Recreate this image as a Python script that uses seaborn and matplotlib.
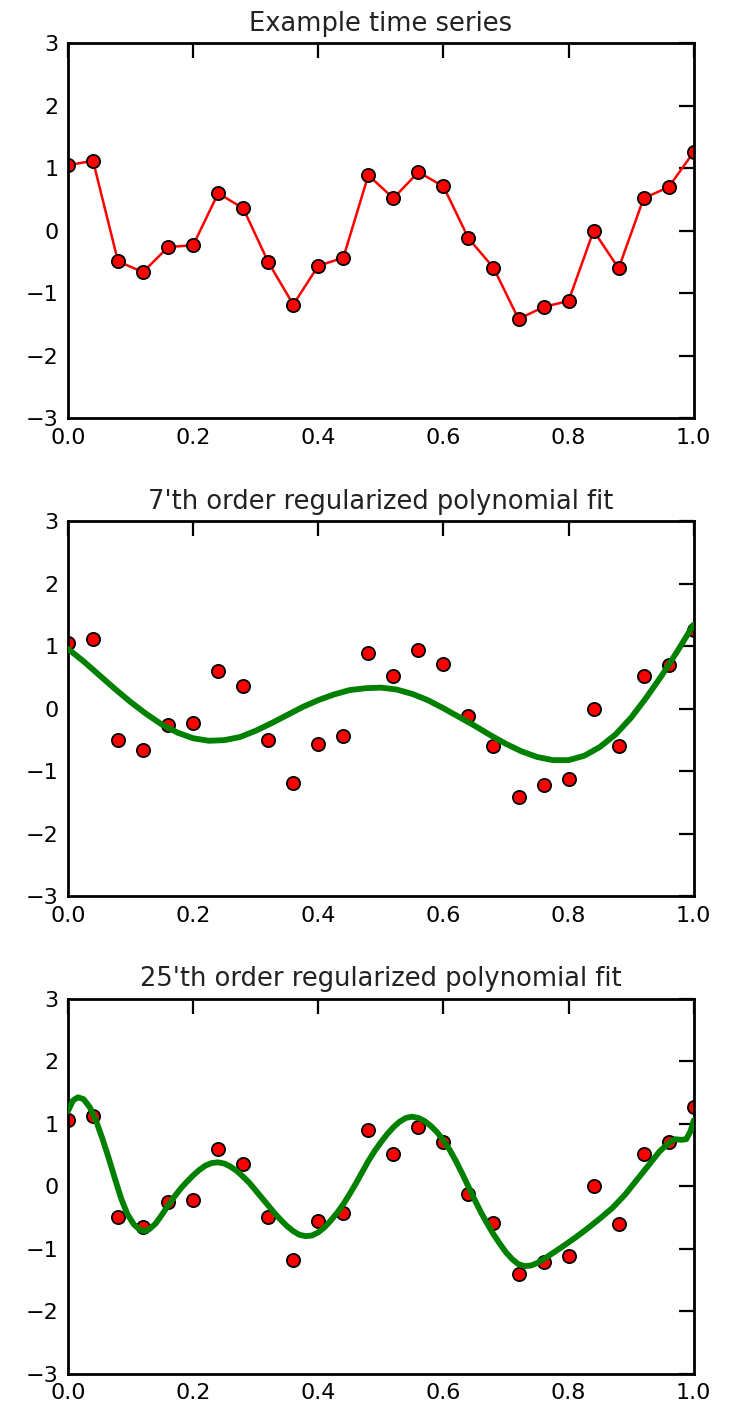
import matplotlib
matplotlib.use("Agg")
import matplotlib.pyplot as plt
import seaborn as sns

# Observed time series (26 evenly spaced samples on [0, 1])
t = [0.00, 0.04, 0.08, 0.12, 0.16, 0.20, 0.24, 0.28, 0.32, 0.36, 0.40, 0.44, 0.48,
     0.52, 0.56, 0.60, 0.64, 0.68, 0.72, 0.76, 0.80, 0.84, 0.88, 0.92, 0.96, 1.00]
y = [1.05, 1.12, -0.49, -0.66, -0.26, -0.23, 0.60, 0.36, -0.50, -1.18, -0.56, -0.43, 0.89,
     0.52, 0.94, 0.71, -0.12, -0.59, -1.41, -1.22, -1.12, 0.00, -0.60, 0.52, 0.70, 1.26]

# 7th order regularized polynomial fit, sampled on a fine grid
fit7_x = [0.000, 0.025, 0.050, 0.075, 0.100, 0.125, 0.150, 0.175, 0.200, 0.225,
          0.250, 0.275, 0.300, 0.325, 0.350, 0.375, 0.400, 0.425, 0.450, 0.475,
          0.500, 0.525, 0.550, 0.575, 0.600, 0.625, 0.650, 0.675, 0.700, 0.725,
          0.750, 0.775, 0.800, 0.825, 0.850, 0.875, 0.900, 0.925, 0.950, 0.975, 1.000]
fit7_y = [0.96, 0.76, 0.54, 0.32, 0.11, -0.08, -0.25, -0.38, -0.47, -0.51,
          -0.50, -0.45, -0.35, -0.23, -0.10, 0.03, 0.14, 0.23, 0.30, 0.33,
          0.34, 0.31, 0.24, 0.14, 0.01, -0.13, -0.27, -0.42, -0.56, -0.68,
          -0.77, -0.82, -0.82, -0.75, -0.61, -0.41, -0.14, 0.19, 0.55, 0.94, 1.35]

# 25th order regularized polynomial fit, sampled on a fine grid
fit25_x = [0.000, 0.008, 0.016, 0.025, 0.035, 0.045, 0.055, 0.065, 0.075, 0.085,
           0.095, 0.105, 0.115, 0.122, 0.130, 0.140, 0.150, 0.160, 0.170, 0.180,
           0.190, 0.200, 0.210, 0.220, 0.230, 0.240, 0.250, 0.260, 0.270, 0.280,
           0.290, 0.300, 0.310, 0.320, 0.330, 0.340, 0.350, 0.360, 0.370, 0.380,
           0.390, 0.400, 0.410, 0.420, 0.430, 0.440, 0.450, 0.460, 0.470, 0.480,
           0.490, 0.500, 0.510, 0.520, 0.530, 0.540, 0.550, 0.560, 0.570, 0.580,
           0.590, 0.600, 0.610, 0.620, 0.630, 0.640, 0.650, 0.660, 0.670, 0.680,
           0.690, 0.700, 0.710, 0.720, 0.730, 0.740, 0.750, 0.760, 0.775, 0.790,
           0.810, 0.830, 0.850, 0.870, 0.890, 0.910, 0.930, 0.945, 0.960, 0.970,
           0.980, 0.988, 0.995, 1.000]
fit25_y = [1.20, 1.37, 1.42, 1.39, 1.26, 1.04, 0.76, 0.45, 0.12, -0.20,
           -0.45, -0.61, -0.70, -0.72, -0.69, -0.60, -0.46, -0.31, -0.17, -0.04,
           0.07, 0.17, 0.26, 0.33, 0.37, 0.38, 0.36, 0.31, 0.24, 0.15,
           0.05, -0.07, -0.19, -0.31, -0.43, -0.54, -0.64, -0.72, -0.78, -0.80,
           -0.79, -0.74, -0.66, -0.55, -0.43, -0.29, -0.13, 0.04, 0.22, 0.40,
           0.56, 0.70, 0.83, 0.94, 1.03, 1.09, 1.11, 1.09, 1.04, 0.96,
           0.86, 0.73, 0.58, 0.40, 0.20, -0.01, -0.22, -0.42, -0.60, -0.77,
           -0.92, -1.06, -1.17, -1.25, -1.28, -1.27, -1.23, -1.17, -1.07, -0.97,
           -0.83, -0.68, -0.52, -0.35, -0.14, 0.11, 0.36, 0.55, 0.69, 0.75,
           0.74, 0.75, 0.88, 1.05]

titles = ["Example time series",
          "7'th order regularized polynomial fit",
          "25'th order regularized polynomial fit"]
x_ticks = [0.0, 0.2, 0.4, 0.6, 0.8, 1.0]
x_tick_labels = ["0.0", "0.2", "0.4", "0.6", "0.8", "1.0"]
y_ticks = [-3, -2, -1, 0, 1, 2, 3]
y_tick_labels = ["\u22123", "\u22122", "\u22121", "0", "1", "2", "3"]

sns.set_style("white")
plt.rcParams.update({
    "font.family": ["DejaVu Sans"],
    "xtick.direction": "in",
    "ytick.direction": "in",
    "xtick.top": True,
    "ytick.right": True,
})

fig = plt.figure(figsize=(7.31, 14.04), dpi=100)
left, width, height = 0.093, 0.856, 0.2672
bottoms = [0.7020, 0.3615, 0.0216]
axes = [fig.add_axes([left, b, width, height]) for b in bottoms]

green = (0.0, 0.5, 0.0)

# Panel 1: the raw series as a connected line with markers
sns.lineplot(x=t, y=y, ax=axes[0], color="red", lw=1.8, marker="o",
             markersize=9.5, markerfacecolor="red", markeredgecolor="black",
             markeredgewidth=1.3)

# Panels 2 and 3: scattered samples with the fitted curve on top
for ax, fx, fy in [(axes[1], fit7_x, fit7_y), (axes[2], fit25_x, fit25_y)]:
    sns.scatterplot(x=t, y=y, ax=ax, s=90, color="red", edgecolor="black",
                    linewidth=1.3, zorder=2)
    sns.lineplot(x=fx, y=fy, ax=ax, color=green, lw=4.2, sort=False, zorder=3,
                 solid_joinstyle="round", solid_capstyle="round")

for ax, title in zip(axes, titles):
    ax.set_xlim(0, 1)
    ax.set_ylim(-3, 3)
    ax.set_xticks(x_ticks)
    ax.set_xticklabels(x_tick_labels)
    ax.set_yticks(y_ticks)
    ax.set_yticklabels(y_tick_labels)
    ax.tick_params(axis="both", which="major", length=11, width=1.6,
                   labelsize=16, pad=7, colors="black")
    for sp in ax.spines.values():
        sp.set_visible(True)
        sp.set_linewidth(2.0)
        sp.set_color("black")
    ax.set_xlabel("")
    ax.set_ylabel("")
    ax.set_title(title, fontsize=18.5, pad=9, color="#222222")

fig.savefig("out.png", dpi=100)
